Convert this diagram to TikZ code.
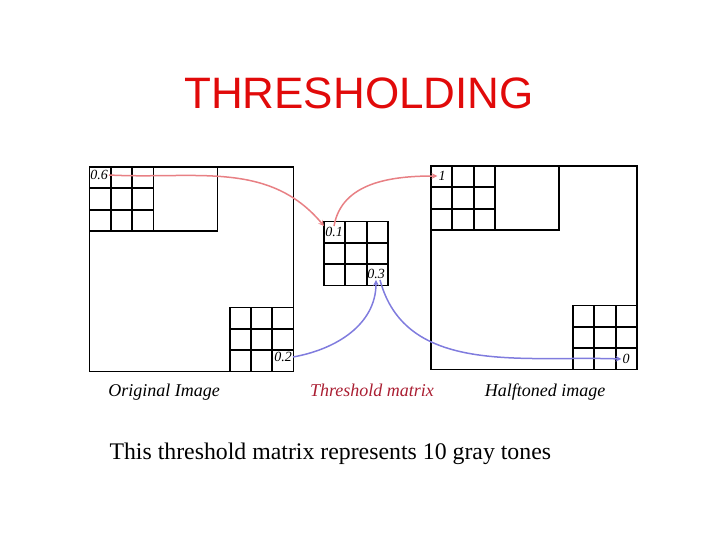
\documentclass[tikz,border=0pt]{standalone}
\usepackage{fontspec}
\setmainfont{Liberation Serif}
\setsansfont{Liberation Sans}
\usetikzlibrary{arrows}
\definecolor{titlered}{RGB}{225,10,10}
\definecolor{pinkline}{RGB}{232,128,132}
\definecolor{blueline}{RGB}{128,124,222}
\definecolor{capred}{RGB}{170,30,50}
\tikzstyle{frame} = [line width=1.9pt, draw=black]
\tikzstyle{cellval} = [inner sep=1pt, font=\fontsize{14}{14}\selectfont\itshape]
\tikzstyle{caption} = [anchor=base, font=\fontsize{18}{20}\selectfont\itshape]
\tikzstyle{pinkarrow} = [line width=1.5pt, draw=pinkline, ->, >=stealth]
\tikzstyle{bluearrow} = [line width=1.5pt, draw=blueline, ->, >=stealth]

\begin{document}
\begin{tikzpicture}[x=1pt, y=-1pt]
	\useasboundingbox (0,0) rectangle (720,540);
	\node (title) at (359,93) [font=\sffamily\fontsize{44}{50}\selectfont, text=titlered] {THRESHOLDING};
	
	% original image
	\draw [frame] (89.5,167) rectangle (293.5,371.5);
	\draw [frame] (89.5,167) rectangle (217.5,231);
	\draw [frame] (153.5,167) -- (153.5,231);
	\draw [frame] (110.8,167) -- (110.8,231);
	\draw [frame] (132.2,167) -- (132.2,231);
	\draw [frame] (89.5,188.3) -- (153.5,188.3);
	\draw [frame] (89.5,209.7) -- (153.5,209.7);
	\draw [frame] (230,307.5) rectangle (293.5,371.5);
	\draw [frame] (251.2,307.5) -- (251.2,371.5);
	\draw [frame] (272.3,307.5) -- (272.3,371.5);
	\draw [frame] (230,328.8) -- (293.5,328.8);
	\draw [frame] (230,350.2) -- (293.5,350.2);
	
	% threshold matrix
	\draw [frame] (324,221.5) rectangle (388,285.5);
	\draw [frame] (345.3,221.5) -- (345.3,285.5);
	\draw [frame] (366.7,221.5) -- (366.7,285.5);
	\draw [frame] (324,242.8) -- (388,242.8);
	\draw [frame] (324,264.2) -- (388,264.2);
	
	% halftoned image
	\draw [frame] (431,166) rectangle (637,369.5);
	\draw [frame] (431,166) rectangle (559,230);
	\draw [frame] (495,166) -- (495,230);
	\draw [frame] (452.3,166) -- (452.3,230);
	\draw [frame] (473.7,166) -- (473.7,230);
	\draw [frame] (431,187.3) -- (495,187.3);
	\draw [frame] (431,208.7) -- (495,208.7);
	\draw [frame] (573,305.5) rectangle (637,369.5);
	\draw [frame] (594.3,305.5) -- (594.3,369.5);
	\draw [frame] (615.7,305.5) -- (615.7,369.5);
	\draw [frame] (573,326.8) -- (637,326.8);
	\draw [frame] (573,348.2) -- (637,348.2);
	
	\node (v06) at (99,175) [cellval] {0.6};
	\node (v1) at (442,176) [cellval] {1};
	\node (v01) at (334,232) [cellval] {0.1};
	\node (v03) at (376,274) [cellval] {0.3};
	\node (v02) at (283,357) [cellval] {0.2};
	\node (v0) at (626,359) [cellval] {0};
	
	\node (orig) at (164,396) [caption] {Original Image};
	\node (thr) at (372,396) [caption, text=capred] {Threshold matrix};
	\node (half) at (545,396) [caption] {Halftoned image};
	\node (note) at (106,459) [anchor=base west, font=\fontsize{23.8}{26}\selectfont] {This threshold matrix represents 10 gray tones};
	
	\draw [pinkarrow] (v06.east) to[out=-3, in=130] (v01.north west);
	\draw [pinkarrow] (v01.north) to[out=80, in=180] (v1.west);
	\draw [bluearrow] (v02.east) to[out=10, in=-90] (v03.south);
	\draw [bluearrow] ([xshift=4pt]v03.south) to[out=-75, in=178] (v0.west);
\end{tikzpicture}
\end{document}
